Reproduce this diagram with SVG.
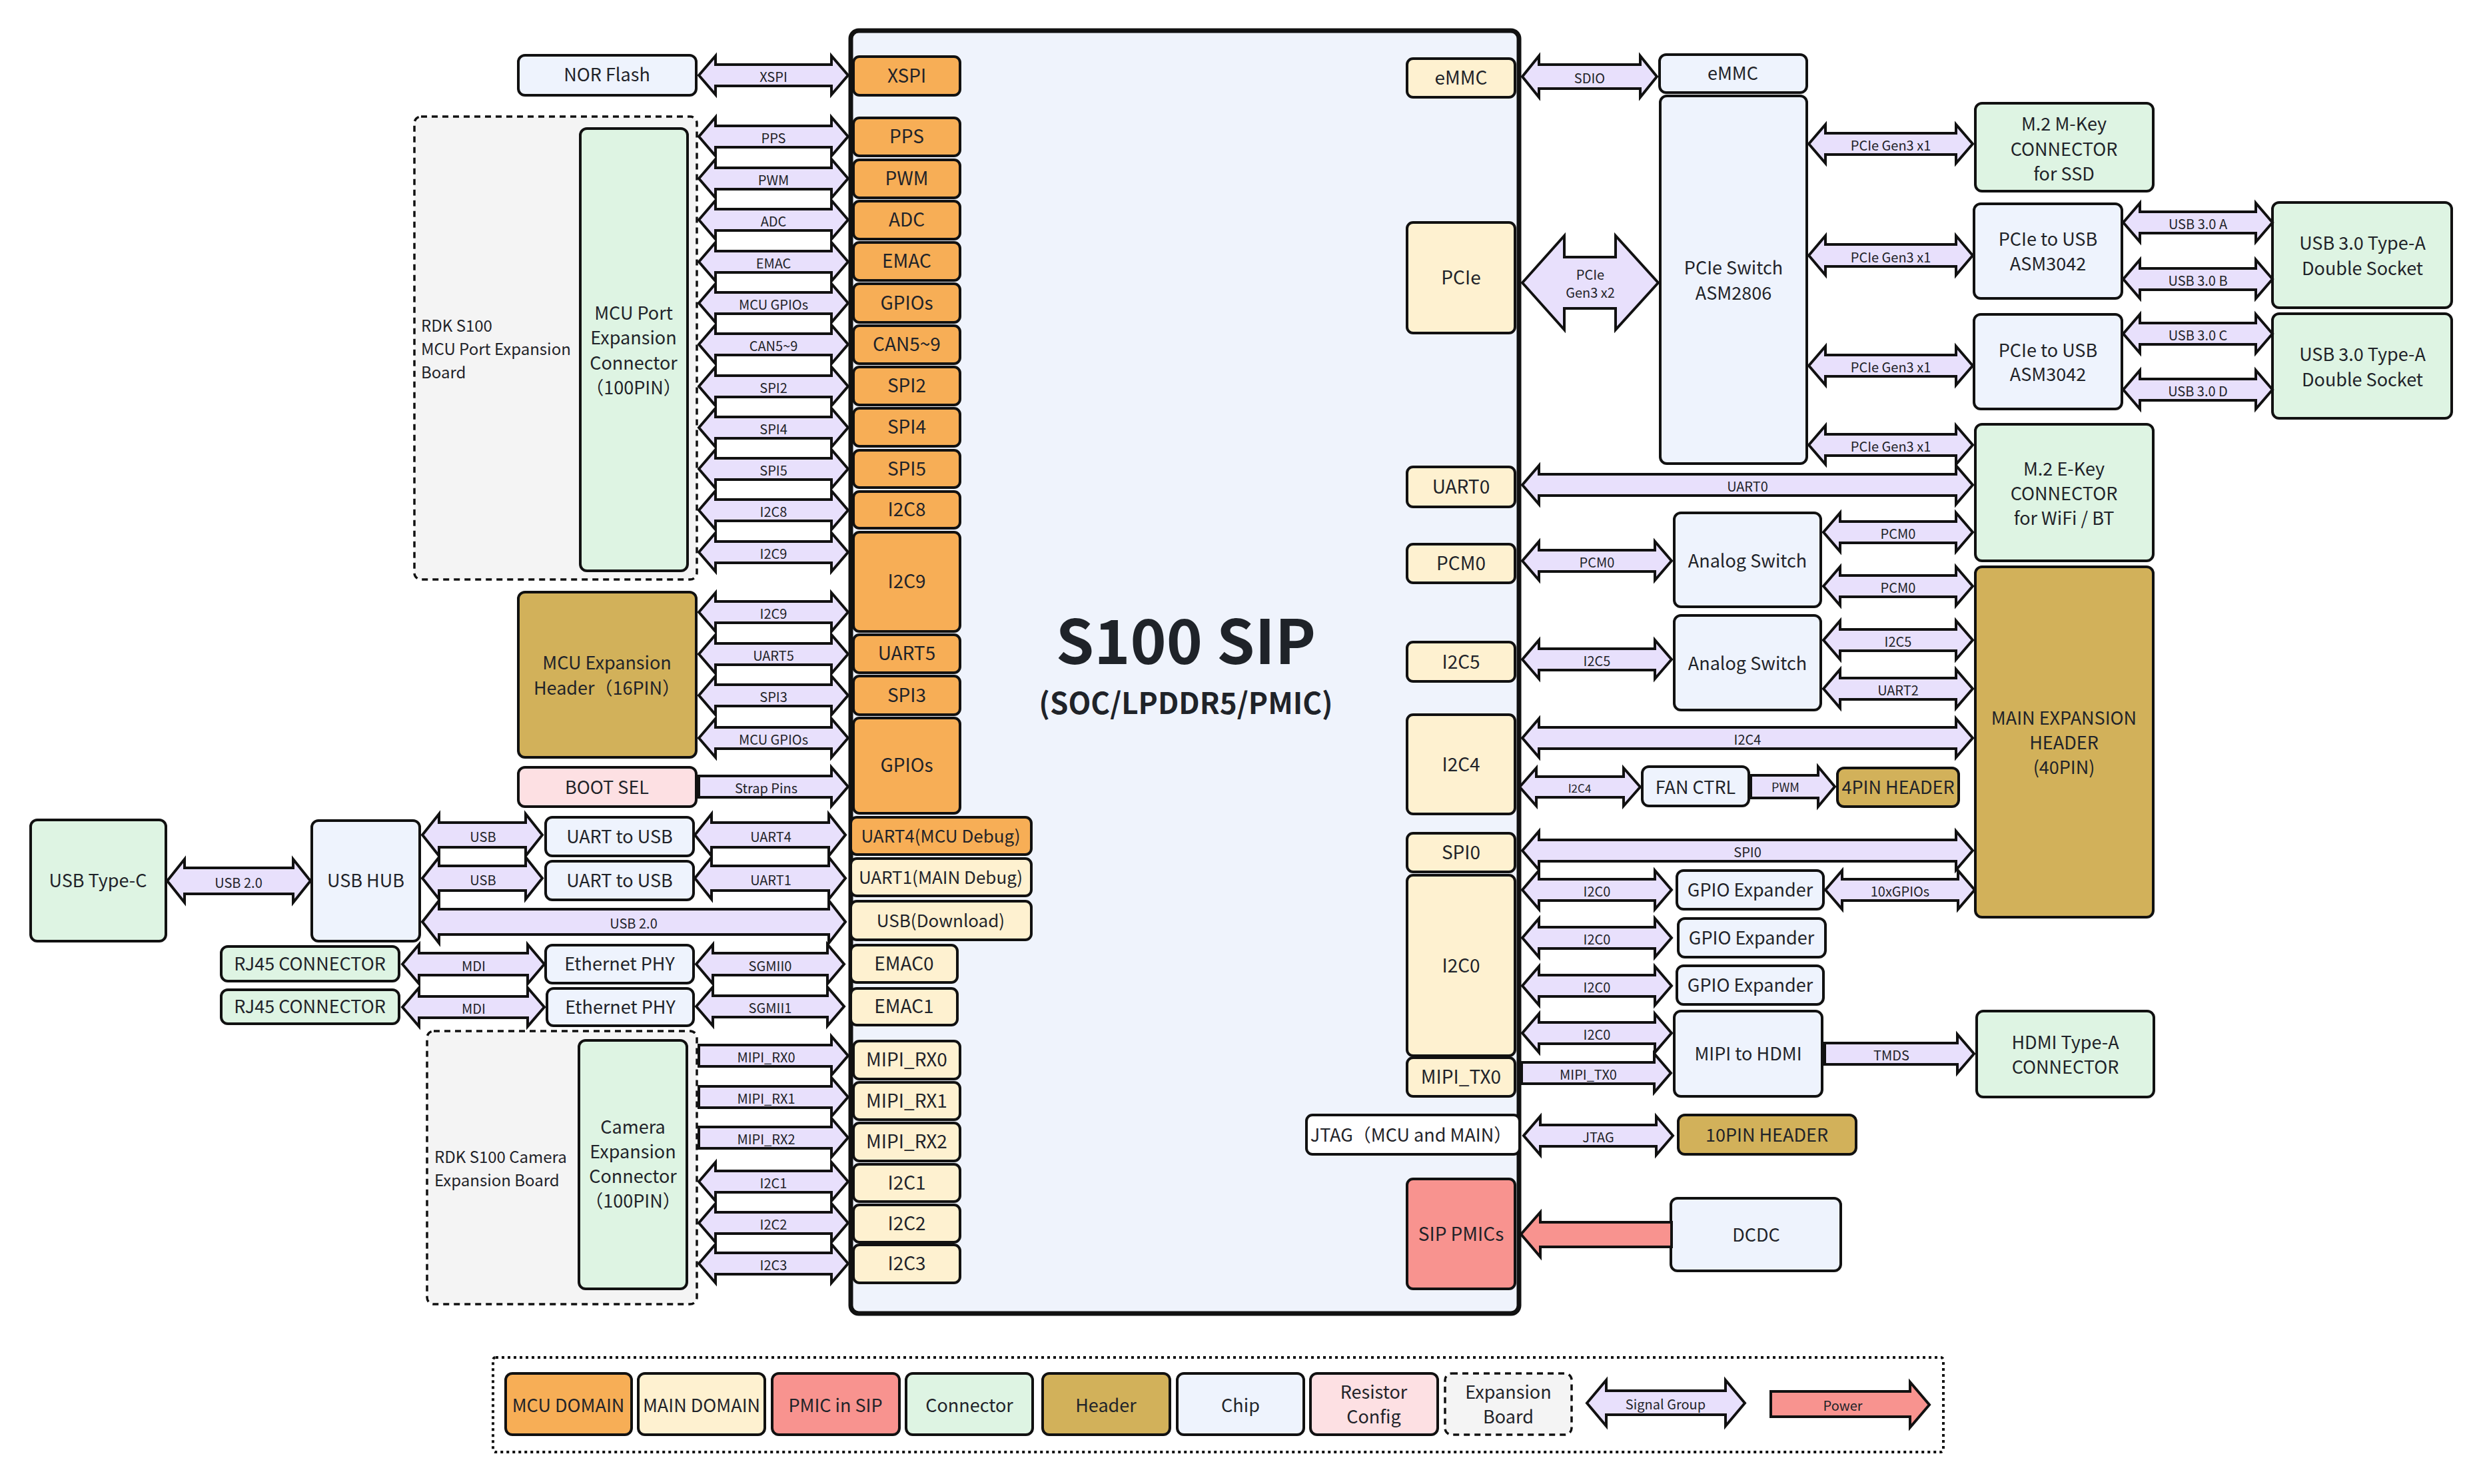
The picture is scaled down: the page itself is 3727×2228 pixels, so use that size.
<svg xmlns="http://www.w3.org/2000/svg" width="3727" height="2228" viewBox="0 0 3727 2228">
<defs>
<style>
text{font-family:"Noto Sans CJK SC","Noto Sans",sans-serif;fill:#1f2329;text-anchor:middle;font-size:27px}
.s{font-size:28px}
.sd{font-size:26px}
.l{font-size:20px}
.st{text-anchor:start;font-size:24px}
rect{stroke:#111;stroke-width:4}
.mcu{fill:#f7ae56}.main{fill:#fef1d0}.pmic{fill:#f8938f}.con{fill:#def4e3}.hdr{fill:#d2b15a}.chip{fill:#eef3fd}.res{fill:#fde0e3}.wht{fill:#fff}
.exp{fill:#f4f4f4;stroke-dasharray:9 7;stroke-width:3.5}
.a{fill:#e8e0fc;stroke:#111;stroke-width:4;stroke-linejoin:miter}
.pw{fill:#f8938f;stroke:#111;stroke-width:4;stroke-linejoin:miter}
.leg{fill:none;stroke-dasharray:4 5;stroke-width:4}
</style>
<path id="da" d="M0 29L25 0L25 13L199 13L199 0L224 29L199 58L199 45L25 45L25 58Z"/>
<path id="sa" d="M0 13L199 13L199 0L224 29L199 58L199 45L0 45Z"/>
</defs>
<rect x="0" y="0" width="3727" height="2228" style="fill:#fff;stroke:none"/>

<!-- expansion boards (background) -->
<g id="mcu-port-board">
<rect class="exp" x="622" y="175" width="424" height="695" rx="10"/>
<text class="st" x="632" y="498">RDK S100</text>
<text class="st" x="632" y="533">MCU Port Expansion</text>
<text class="st" x="632" y="568">Board</text>
</g>
<g id="camera-board">
<rect class="exp" x="641" y="1548" width="405" height="410" rx="10"/>
<text class="st" x="652" y="1746">RDK S100 Camera</text>
<text class="st" x="652" y="1781">Expansion Board</text>
</g>

<!-- SIP -->
<g id="sip">
<rect x="1277" y="46" width="1003" height="1926" rx="12" style="fill:#eff3fc;stroke:#111;stroke-width:7"/>
<text x="1780" y="997" style="font-size:92px;font-weight:700">S100 SIP</text>
<text x="1780" y="1072" style="font-size:44px;font-weight:700">(SOC/LPDDR5/PMIC)</text>
</g>

<!-- SIP left ports -->
<g id="p-xspi"><rect class="mcu" x="1281" y="85" width="160" height="58" rx="9"/><text class="s" x="1361" y="124">XSPI</text></g>
<g id="p-pps"><rect class="mcu" x="1281" y="177" width="160" height="57" rx="9"/><text class="s" x="1361" y="215">PPS</text></g>
<g id="p-pwm"><rect class="mcu" x="1281" y="240" width="160" height="57" rx="9"/><text class="s" x="1361" y="278">PWM</text></g>
<g id="p-adc"><rect class="mcu" x="1281" y="302" width="160" height="57" rx="9"/><text class="s" x="1361" y="340">ADC</text></g>
<g id="p-emac"><rect class="mcu" x="1281" y="364" width="160" height="57" rx="9"/><text class="s" x="1361" y="402">EMAC</text></g>
<g id="p-gpios1"><rect class="mcu" x="1281" y="426" width="160" height="58" rx="9"/><text class="s" x="1361" y="465">GPIOs</text></g>
<g id="p-can"><rect class="mcu" x="1281" y="489" width="160" height="57" rx="9"/><text class="s" x="1361" y="527">CAN5~9</text></g>
<g id="p-spi2"><rect class="mcu" x="1281" y="551" width="160" height="57" rx="9"/><text class="s" x="1361" y="589">SPI2</text></g>
<g id="p-spi4"><rect class="mcu" x="1281" y="613" width="160" height="57" rx="9"/><text class="s" x="1361" y="651">SPI4</text></g>
<g id="p-spi5"><rect class="mcu" x="1281" y="676" width="160" height="56" rx="9"/><text class="s" x="1361" y="714">SPI5</text></g>
<g id="p-i2c8"><rect class="mcu" x="1281" y="738" width="160" height="55" rx="9"/><text class="s" x="1361" y="775">I2C8</text></g>
<g id="p-i2c9"><rect class="mcu" x="1281" y="799" width="160" height="149" rx="9"/><text class="s" x="1361" y="883">I2C9</text></g>
<g id="p-uart5"><rect class="mcu" x="1281" y="953" width="160" height="57" rx="9"/><text class="s" x="1361" y="991">UART5</text></g>
<g id="p-spi3"><rect class="mcu" x="1281" y="1015" width="160" height="58" rx="9"/><text class="s" x="1361" y="1054">SPI3</text></g>
<g id="p-gpios2"><rect class="mcu" x="1281" y="1078" width="160" height="143" rx="9"/><text class="s" x="1361" y="1159">GPIOs</text></g>
<g id="p-uart4"><rect class="mcu" x="1277" y="1227" width="271" height="56" rx="9"/><text class="sd" x="1412" y="1265">UART4(MCU Debug)</text></g>
<g id="p-uart1"><rect class="main" x="1277" y="1289" width="271" height="56" rx="9"/><text class="sd" x="1412" y="1327">UART1(MAIN Debug)</text></g>
<g id="p-usbdl"><rect class="main" x="1277" y="1353" width="271" height="58" rx="9"/><text class="sd" x="1412" y="1392">USB(Download)</text></g>
<g id="p-emac0"><rect class="main" x="1277" y="1419" width="160" height="56" rx="9"/><text class="s" x="1357" y="1457">EMAC0</text></g>
<g id="p-emac1"><rect class="main" x="1277" y="1484" width="160" height="55" rx="9"/><text class="s" x="1357" y="1521">EMAC1</text></g>
<g id="p-rx0"><rect class="main" x="1281" y="1563" width="160" height="57" rx="9"/><text class="s" x="1361" y="1601">MIPI_RX0</text></g>
<g id="p-rx1"><rect class="main" x="1281" y="1625" width="160" height="56" rx="9"/><text class="s" x="1361" y="1663">MIPI_RX1</text></g>
<g id="p-rx2"><rect class="main" x="1281" y="1686" width="160" height="57" rx="9"/><text class="s" x="1361" y="1724">MIPI_RX2</text></g>
<g id="p-i2c1"><rect class="main" x="1281" y="1748" width="160" height="56" rx="9"/><text class="s" x="1361" y="1786">I2C1</text></g>
<g id="p-i2c2"><rect class="main" x="1281" y="1809" width="160" height="56" rx="9"/><text class="s" x="1361" y="1847">I2C2</text></g>
<g id="p-i2c3"><rect class="main" x="1281" y="1869" width="160" height="57" rx="9"/><text class="s" x="1361" y="1907">I2C3</text></g>

<!-- SIP right ports -->
<g id="p-emmc"><rect class="main" x="2112" y="88" width="162" height="58" rx="9"/><text class="s" x="2193" y="127">eMMC</text></g>
<g id="p-pcie"><rect class="main" x="2112" y="334" width="162" height="166" rx="9"/><text class="s" x="2193" y="427">PCIe</text></g>
<g id="p-uart0"><rect class="main" x="2112" y="701" width="162" height="60" rx="9"/><text class="s" x="2193" y="741">UART0</text></g>
<g id="p-pcm0"><rect class="main" x="2112" y="817" width="162" height="58" rx="9"/><text class="s" x="2193" y="856">PCM0</text></g>
<g id="p-i2c5"><rect class="main" x="2112" y="964" width="162" height="59" rx="9"/><text class="s" x="2193" y="1004">I2C5</text></g>
<g id="p-i2c4"><rect class="main" x="2112" y="1073" width="162" height="149" rx="9"/><text class="s" x="2193" y="1158">I2C4</text></g>
<g id="p-spi0"><rect class="main" x="2112" y="1251" width="162" height="58" rx="9"/><text class="s" x="2193" y="1290">SPI0</text></g>
<g id="p-i2c0"><rect class="main" x="2112" y="1314" width="162" height="271" rx="9"/><text class="s" x="2193" y="1460">I2C0</text></g>
<g id="p-tx0"><rect class="main" x="2112" y="1588" width="162" height="58" rx="9"/><text class="s" x="2193" y="1627">MIPI_TX0</text></g>
<g id="p-jtag"><rect class="wht" x="1961" y="1674" width="320" height="59" rx="9"/><text x="2118" y="1714">JTAG（MCU and MAIN）</text></g>
<g id="p-pmic"><rect class="pmic" x="2112" y="1770" width="162" height="165" rx="9"/><text class="s" x="2193" y="1863">SIP PMICs</text></g>

<!-- left external nodes -->
<g id="nor"><rect class="chip" x="778" y="83" width="267" height="60" rx="10"/><text x="911" y="122">NOR Flash</text></g>
<g id="mcu-port-conn"><rect class="con" x="871" y="193" width="161" height="664" rx="10"/>
<text x="951" y="480">MCU Port</text><text x="951" y="517">Expansion</text><text x="951" y="555">Connector</text><text x="951" y="592">（100PIN）</text></g>
<g id="mcu-hdr"><rect class="hdr" x="778" y="889" width="267" height="248" rx="10"/>
<text x="911" y="1005">MCU Expansion</text><text x="911" y="1043">Header（16PIN）</text></g>
<g id="bootsel"><rect class="res" x="778" y="1152" width="267" height="59" rx="10"/><text x="911" y="1192">BOOT SEL</text></g>
<g id="u2u1"><rect class="chip" x="819" y="1227" width="222" height="58" rx="10"/><text x="930" y="1266">UART to USB</text></g>
<g id="u2u2"><rect class="chip" x="819" y="1293" width="222" height="58" rx="10"/><text x="930" y="1332">UART to USB</text></g>
<g id="hub"><rect class="chip" x="468" y="1232" width="162" height="181" rx="10"/><text x="549" y="1332">USB HUB</text></g>
<g id="typec"><rect class="con" x="46" y="1231" width="203" height="182" rx="10"/><text x="147" y="1332">USB Type-C</text></g>
<g id="rj45-1"><rect class="con" x="332" y="1421" width="267" height="52" rx="10"/><text x="465" y="1457">RJ45 CONNECTOR</text></g>
<g id="phy1"><rect class="chip" x="819" y="1419" width="222" height="57" rx="10"/><text x="930" y="1457">Ethernet PHY</text></g>
<g id="rj45-2"><rect class="con" x="332" y="1486" width="267" height="51" rx="10"/><text x="465" y="1521">RJ45 CONNECTOR</text></g>
<g id="phy2"><rect class="chip" x="821" y="1484" width="220" height="56" rx="10"/><text x="931" y="1522">Ethernet PHY</text></g>
<g id="cam-conn"><rect class="con" x="869" y="1562" width="162" height="373" rx="10"/>
<text x="950" y="1702">Camera</text><text x="950" y="1739">Expansion</text><text x="950" y="1776">Connector</text><text x="950" y="1813">（100PIN）</text></g>

<!-- right external nodes -->
<g id="emmc"><rect class="chip" x="2491" y="82" width="221" height="57" rx="10"/><text x="2601" y="120">eMMC</text></g>
<g id="pcie-sw"><rect class="chip" x="2492" y="144" width="220" height="552" rx="10"/><text x="2602" y="412">PCIe Switch</text><text x="2602" y="450">ASM2806</text></g>
<g id="m2m"><rect class="con" x="2965" y="155" width="267" height="132" rx="10"/><text x="3098" y="196">M.2 M-Key</text><text x="3098" y="234">CONNECTOR</text><text x="3098" y="271">for SSD</text></g>
<g id="p2u1"><rect class="chip" x="2963" y="306" width="222" height="142" rx="10"/><text x="3074" y="369">PCIe to USB</text><text x="3074" y="406">ASM3042</text></g>
<g id="p2u2"><rect class="chip" x="2963" y="472" width="222" height="142" rx="10"/><text x="3074" y="536">PCIe to USB</text><text x="3074" y="572">ASM3042</text></g>
<g id="usba1"><rect class="con" x="3411" y="304" width="269" height="158" rx="10"/><text x="3546" y="375">USB 3.0 Type-A</text><text x="3546" y="413">Double Socket</text></g>
<g id="usba2"><rect class="con" x="3411" y="471" width="269" height="157" rx="10"/><text x="3546" y="542">USB 3.0 Type-A</text><text x="3546" y="580">Double Socket</text></g>
<g id="m2e"><rect class="con" x="2965" y="637" width="267" height="205" rx="10"/><text x="3098" y="714">M.2 E-Key</text><text x="3098" y="751">CONNECTOR</text><text x="3098" y="788">for WiFi / BT</text></g>
<g id="asw1"><rect class="chip" x="2513" y="770" width="220" height="141" rx="10"/><text x="2623" y="852">Analog Switch</text></g>
<g id="asw2"><rect class="chip" x="2513" y="924" width="220" height="142" rx="10"/><text x="2623" y="1006">Analog Switch</text></g>
<g id="main-hdr"><rect class="hdr" x="2965" y="851" width="267" height="526" rx="10"/><text x="3098" y="1088">MAIN EXPANSION</text><text x="3098" y="1125">HEADER</text><text x="3098" y="1162">(40PIN)</text></g>
<g id="fan"><rect class="chip" x="2465" y="1151" width="160" height="59" rx="10"/><text x="2545" y="1192">FAN CTRL</text></g>
<g id="pin4"><rect class="hdr" x="2758" y="1153" width="182" height="58" rx="10"/><text x="2849" y="1192">4PIN HEADER</text></g>
<g id="gpx1"><rect class="chip" x="2517" y="1307" width="220" height="58" rx="10"/><text x="2627" y="1346">GPIO Expander</text></g>
<g id="gpx2"><rect class="chip" x="2519" y="1379" width="221" height="58" rx="10"/><text x="2629" y="1418">GPIO Expander</text></g>
<g id="gpx3"><rect class="chip" x="2517" y="1450" width="220" height="58" rx="10"/><text x="2627" y="1489">GPIO Expander</text></g>
<g id="m2h"><rect class="chip" x="2513" y="1518" width="222" height="128" rx="10"/><text x="2624" y="1592">MIPI to HDMI</text></g>
<g id="hdmi"><rect class="con" x="2967" y="1518" width="266" height="129" rx="10"/><text x="3100" y="1575">HDMI Type-A</text><text x="3100" y="1612">CONNECTOR</text></g>
<g id="pin10"><rect class="hdr" x="2519" y="1674" width="267" height="59" rx="10"/><text x="2652" y="1714">10PIN HEADER</text></g>
<g id="dcdc"><rect class="chip" x="2508" y="1799" width="255" height="109" rx="10"/><text x="2636" y="1864">DCDC</text></g>

<!-- connectors -->
<g id="connectors">
<use class="a" href="#da" x="1049" y="84"/><text class="l" x="1161" y="123">XSPI</text>
<use class="a" href="#da" x="1049" y="176"/><text class="l" x="1161" y="215">PPS</text>
<use class="a" href="#da" x="1049" y="239"/><text class="l" x="1161" y="278">PWM</text>
<use class="a" href="#da" x="1049" y="301"/><text class="l" x="1161" y="340">ADC</text>
<use class="a" href="#da" x="1049" y="364"/><text class="l" x="1161" y="403">EMAC</text>
<use class="a" href="#da" x="1049" y="426"/><text class="l" x="1161" y="465">MCU GPIOs</text>
<use class="a" href="#da" x="1049" y="488"/><text class="l" x="1161" y="527">CAN5~9</text>
<use class="a" href="#da" x="1049" y="551"/><text class="l" x="1161" y="590">SPI2</text>
<use class="a" href="#da" x="1049" y="613"/><text class="l" x="1161" y="652">SPI4</text>
<use class="a" href="#da" x="1049" y="675"/><text class="l" x="1161" y="714">SPI5</text>
<use class="a" href="#da" x="1049" y="737"/><text class="l" x="1161" y="776">I2C8</text>
<use class="a" href="#da" x="1049" y="800"/><text class="l" x="1161" y="839">I2C9</text>
<use class="a" href="#da" x="1049" y="890"/><text class="l" x="1161" y="929">I2C9</text>
<use class="a" href="#da" x="1049" y="953"/><text class="l" x="1161" y="992">UART5</text>
<use class="a" href="#da" x="1049" y="1015"/><text class="l" x="1161" y="1054">SPI3</text>
<use class="a" href="#da" x="1049" y="1079"/><text class="l" x="1161" y="1118">MCU GPIOs</text>
<use class="a" href="#sa" x="1049" y="1152"/><text class="l" x="1150" y="1191">Strap Pins</text>
<path class="a" d="M1043 1253.5L1068 1222L1068 1235L1244 1235L1244 1222L1269 1253.5L1244 1285L1244 1272L1068 1272L1068 1285Z"/><text class="l" x="1157" y="1264">UART4</text>
<path class="a" d="M1043 1318.5L1068 1287L1068 1300L1244 1300L1244 1287L1269 1318.5L1244 1350L1244 1337L1068 1337L1068 1350Z"/><text class="l" x="1157" y="1329">UART1</text>
<path class="a" d="M634 1253.5L659 1222L659 1235L789 1235L789 1222L814 1253.5L789 1285L789 1272L659 1272L659 1285Z"/><text class="l" x="725" y="1264">USB</text>
<path class="a" d="M634 1318.5L659 1287L659 1300L789 1300L789 1287L814 1318.5L789 1350L789 1337L659 1337L659 1350Z"/><text class="l" x="725" y="1329">USB</text>
<path class="a" d="M634 1384L659 1352L659 1365L1244 1365L1244 1352L1269 1384L1244 1416L1244 1403L659 1403L659 1416Z"/><text class="l" x="951" y="1394">USB 2.0</text>
<path class="a" d="M251 1322.5L277 1290L277 1303L440 1303L440 1290L466 1322.5L440 1355L440 1342L277 1342L277 1355Z"/><text class="l" x="358" y="1333">USB 2.0</text>
<path class="a" d="M604 1447.5L629 1418L629 1431L792 1431L792 1418L817 1447.5L792 1477L792 1464L629 1464L629 1477Z"/><text class="l" x="711" y="1458">MDI</text>
<path class="a" d="M1045 1447.5L1070 1418L1070 1431L1242 1431L1242 1418L1267 1447.5L1242 1477L1242 1464L1070 1464L1070 1477Z"/><text class="l" x="1156" y="1458">SGMII0</text>
<path class="a" d="M604 1512L629 1483L629 1496L792 1496L792 1483L817 1512L792 1541L792 1528L629 1528L629 1541Z"/><text class="l" x="711" y="1522">MDI</text>
<path class="a" d="M1045 1511L1070 1482L1070 1495L1242 1495L1242 1482L1267 1511L1242 1540L1242 1527L1070 1527L1070 1540Z"/><text class="l" x="1156" y="1521">SGMII1</text>
<use class="a" href="#sa" x="1049" y="1556"/><text class="l" x="1150" y="1595">MIPI_RX0</text>
<use class="a" href="#sa" x="1049" y="1618"/><text class="l" x="1150" y="1657">MIPI_RX1</text>
<use class="a" href="#sa" x="1049" y="1679"/><text class="l" x="1150" y="1718">MIPI_RX2</text>
<use class="a" href="#da" x="1049" y="1745"/><text class="l" x="1161" y="1784">I2C1</text>
<use class="a" href="#da" x="1049" y="1807"/><text class="l" x="1161" y="1846">I2C2</text>
<use class="a" href="#da" x="1049" y="1868"/><text class="l" x="1161" y="1907">I2C3</text>

<path class="a" d="M2285 115L2310 84L2310 97L2462 97L2462 84L2487 115L2462 146L2462 133L2310 133L2310 146Z"/><text class="l" x="2386" y="125">SDIO</text>
<path class="a" d="M2285 424.5L2348 354L2348 386L2425 386L2425 354L2489 424.5L2425 495L2425 463L2348 463L2348 495Z"/><text class="l" x="2387" y="420">PCIe</text><text class="l" x="2387" y="447">Gen3 x2</text>
<path class="a" d="M2715 216L2740 187L2740 200L2936 200L2936 187L2961 216L2936 245L2936 232L2740 232L2740 245Z"/><text class="l" x="2838" y="226">PCIe Gen3 x1</text>
<path class="a" d="M2715 383.5L2740 354L2740 367L2936 367L2936 354L2961 383.5L2936 413L2936 400L2740 400L2740 413Z"/><text class="l" x="2838" y="394">PCIe Gen3 x1</text>
<path class="a" d="M2715 549L2740 520L2740 533L2936 533L2936 520L2961 549L2936 578L2936 565L2740 565L2740 578Z"/><text class="l" x="2838" y="559">PCIe Gen3 x1</text>
<path class="a" d="M2715 668L2740 639L2740 652L2936 652L2936 639L2961 668L2936 697L2936 684L2740 684L2740 697Z"/><text class="l" x="2838" y="678">PCIe Gen3 x1</text>
<use class="a" href="#da" x="3187" y="305"/><text class="l" x="3299" y="344">USB 3.0 A</text>
<use class="a" href="#da" x="3187" y="390"/><text class="l" x="3299" y="429">USB 3.0 B</text>
<use class="a" href="#da" x="3187" y="472"/><text class="l" x="3299" y="511">USB 3.0 C</text>
<use class="a" href="#da" x="3187" y="556"/><text class="l" x="3299" y="595">USB 3.0 D</text>
<path class="a" d="M2285 728L2310 699L2310 712L2936 712L2936 699L2961 728L2936 757L2936 744L2310 744L2310 757Z"/><text class="l" x="2623" y="738">UART0</text>
<use class="a" href="#da" x="2285" y="813"/><text class="l" x="2397" y="852">PCM0</text>
<use class="a" href="#da" x="2285" y="961"/><text class="l" x="2397" y="1000">I2C5</text>
<use class="a" href="#da" x="2737" y="770"/><text class="l" x="2849" y="809">PCM0</text>
<use class="a" href="#da" x="2737" y="851"/><text class="l" x="2849" y="890">PCM0</text>
<use class="a" href="#da" x="2737" y="932"/><text class="l" x="2849" y="971">I2C5</text>
<use class="a" href="#da" x="2737" y="1005"/><text class="l" x="2849" y="1044">UART2</text>
<path class="a" d="M2285 1108L2310 1079L2310 1092L2936 1092L2936 1079L2961 1108L2936 1137L2936 1124L2310 1124L2310 1137Z"/><text class="l" x="2623" y="1118">I2C4</text>
<path class="a" d="M2281 1181.5L2306 1153L2306 1166L2437 1166L2437 1153L2462 1181.5L2437 1210L2437 1197L2306 1197L2306 1210Z"/><text class="l" x="2371" y="1190" style="font-size:17px">I2C4</text>
<path class="a" d="M2628 1164L2729 1164L2729 1151L2754 1181L2729 1211L2729 1198L2628 1198Z"/><text class="l" x="2680" y="1189" style="font-size:18px">PWM</text>
<path class="a" d="M2285 1277L2310 1248L2310 1261L2936 1261L2936 1248L2961 1277L2936 1306L2936 1293L2310 1293L2310 1306Z"/><text class="l" x="2623" y="1287">SPI0</text>
<use class="a" href="#da" x="2285" y="1307"/><text class="l" x="2397" y="1346">I2C0</text>
<use class="a" href="#da" x="2285" y="1379"/><text class="l" x="2397" y="1418">I2C0</text>
<use class="a" href="#da" x="2285" y="1451"/><text class="l" x="2397" y="1490">I2C0</text>
<use class="a" href="#da" x="2285" y="1522"/><text class="l" x="2397" y="1561">I2C0</text>
<use class="a" href="#da" x="2740" y="1307"/><text class="l" x="2852" y="1346">10xGPIOs</text>
<use class="a" href="#sa" x="2284" y="1582"/><text class="l" x="2384" y="1621">MIPI_TX0</text>
<use class="a" href="#sa" x="2739" y="1553"/><text class="l" x="2839" y="1592">TMDS</text>
<use class="a" href="#da" x="2287" y="1676"/><text class="l" x="2399" y="1715">JTAG</text>
<path class="pw" d="M2283 1853L2312 1820L2312 1835L2509 1835L2509 1872L2312 1872L2312 1887Z"/>
</g>

<!-- legend -->
<g id="legend">
<rect class="leg" x="740" y="2038" width="2177" height="142" rx="4"/>
<g id="lg-mcu"><rect class="mcu" x="759" y="2062" width="189" height="92" rx="10"/><text x="853" y="2120">MCU DOMAIN</text></g>
<g id="lg-main"><rect class="main" x="958" y="2062" width="190" height="92" rx="10"/><text x="1053" y="2120">MAIN DOMAIN</text></g>
<g id="lg-pmic"><rect class="pmic" x="1159" y="2062" width="191" height="92" rx="10"/><text x="1254" y="2120">PMIC in SIP</text></g>
<g id="lg-con"><rect class="con" x="1360" y="2062" width="190" height="92" rx="10"/><text x="1455" y="2120">Connector</text></g>
<g id="lg-hdr"><rect class="hdr" x="1565" y="2062" width="191" height="92" rx="10"/><text x="1660" y="2120">Header</text></g>
<g id="lg-chip"><rect class="chip" x="1767" y="2062" width="190" height="92" rx="10"/><text x="1862" y="2120">Chip</text></g>
<g id="lg-res"><rect class="res" x="1967" y="2062" width="191" height="92" rx="10"/><text x="2062" y="2100">Resistor</text><text x="2062" y="2137">Config</text></g>
<g id="lg-exp"><rect class="exp" x="2169" y="2062" width="190" height="92" rx="10"/><text x="2264" y="2100">Expansion</text><text x="2264" y="2137">Board</text></g>
<g id="lg-sig"><path class="a" d="M2382 2106.5L2411 2072L2411 2088L2590 2088L2590 2072L2619 2106.5L2590 2141L2590 2124L2411 2124L2411 2141Z"/><text class="l" x="2500" y="2116">Signal Group</text></g>
<g id="lg-pwr"><path class="pw" d="M2658 2089L2867 2089L2867 2075L2896 2109L2867 2143L2867 2127L2658 2127Z"/><text class="l" x="2766" y="2118">Power</text></g>
</g>
</svg>
